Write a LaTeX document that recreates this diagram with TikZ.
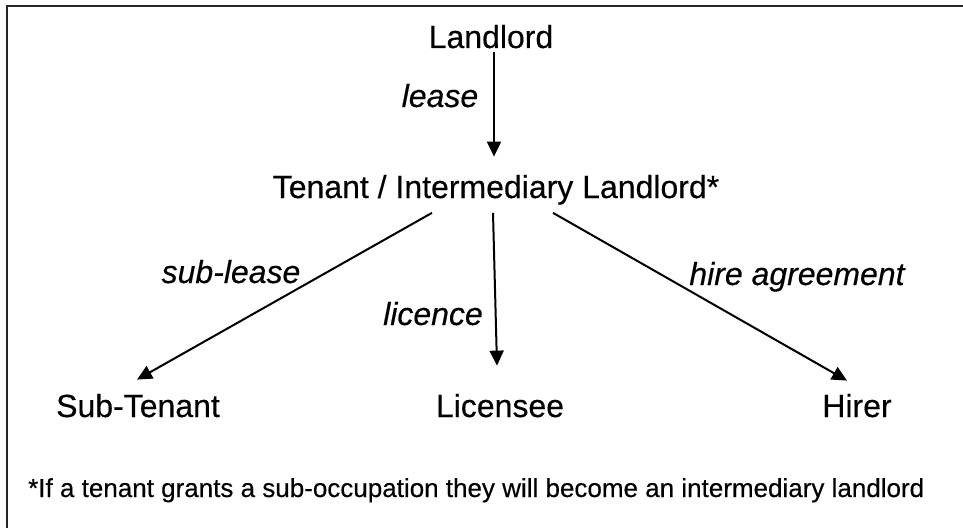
\documentclass[tikz,border=0pt]{standalone}
\usepackage{fontspec}
\setmainfont{Liberation Sans}[FakeBold=0.3]
\newfontfamily\heavy{Liberation Sans}[FakeBold=0.35]
\newfontfamily\heavyit{Liberation Sans Italic}[FakeBold=0.35]
\usetikzlibrary{arrows.meta,calc}
\begin{document}
\begin{tikzpicture}[x=1pt,y=-1pt,
  party/.style={inner sep=0pt,anchor=base,font=\heavy\fontsize{32}{36}\selectfont},
  lbl/.style={inner sep=0pt,anchor=base,font=\heavyit\fontsize{32}{36}\selectfont},
  note/.style={inner sep=0pt,anchor=base west,font=\heavy\fontsize{26}{30}\selectfont},
  arr/.style={line width=2pt,-{Triangle[length=15pt,width=14pt]}}]
\useasboundingbox (0,0) rectangle (963,527);
\draw[line width=2pt,black!85] (7,540) -- (7,6) -- (975,6);
\node[party] (L) at (491,48) {Landlord};
\node[party] (T) at (496,198) {Tenant / Intermediary Landlord*};
\node[party] (ST) at (138,417) {Sub-Tenant};
\node[party] (LI) at (500,417) {Licensee};
\node[party] (H) at (857,417) {Hirer};
\node[note] (N) at (28,497) {*If a tenant grants a sub-occupation they will become an intermediary landlord};
\draw[arr] ($(L.south)+(3,3)$) -- ($(T.north)+(-2,-18)$);
\draw[arr] ($(T.south)+(-64,8)$) -- ($(ST.north)+(-1,-14)$);
\draw[arr] ($(T.south)+(-3,8)$) -- ($(LI.north)+(-3,-28)$);
\draw[arr] ($(T.south)+(57,8)$) -- ($(H.north)+(-10,-13)$);
\node[lbl] (l1) at (440,107) {lease};
\node[lbl] (l2) at (231,283) {sub-lease};
\node[lbl] (l3) at (433,325) {licence};
\node[lbl] (l4) at (797,285) {hire agreement};
\end{tikzpicture}
\end{document}
